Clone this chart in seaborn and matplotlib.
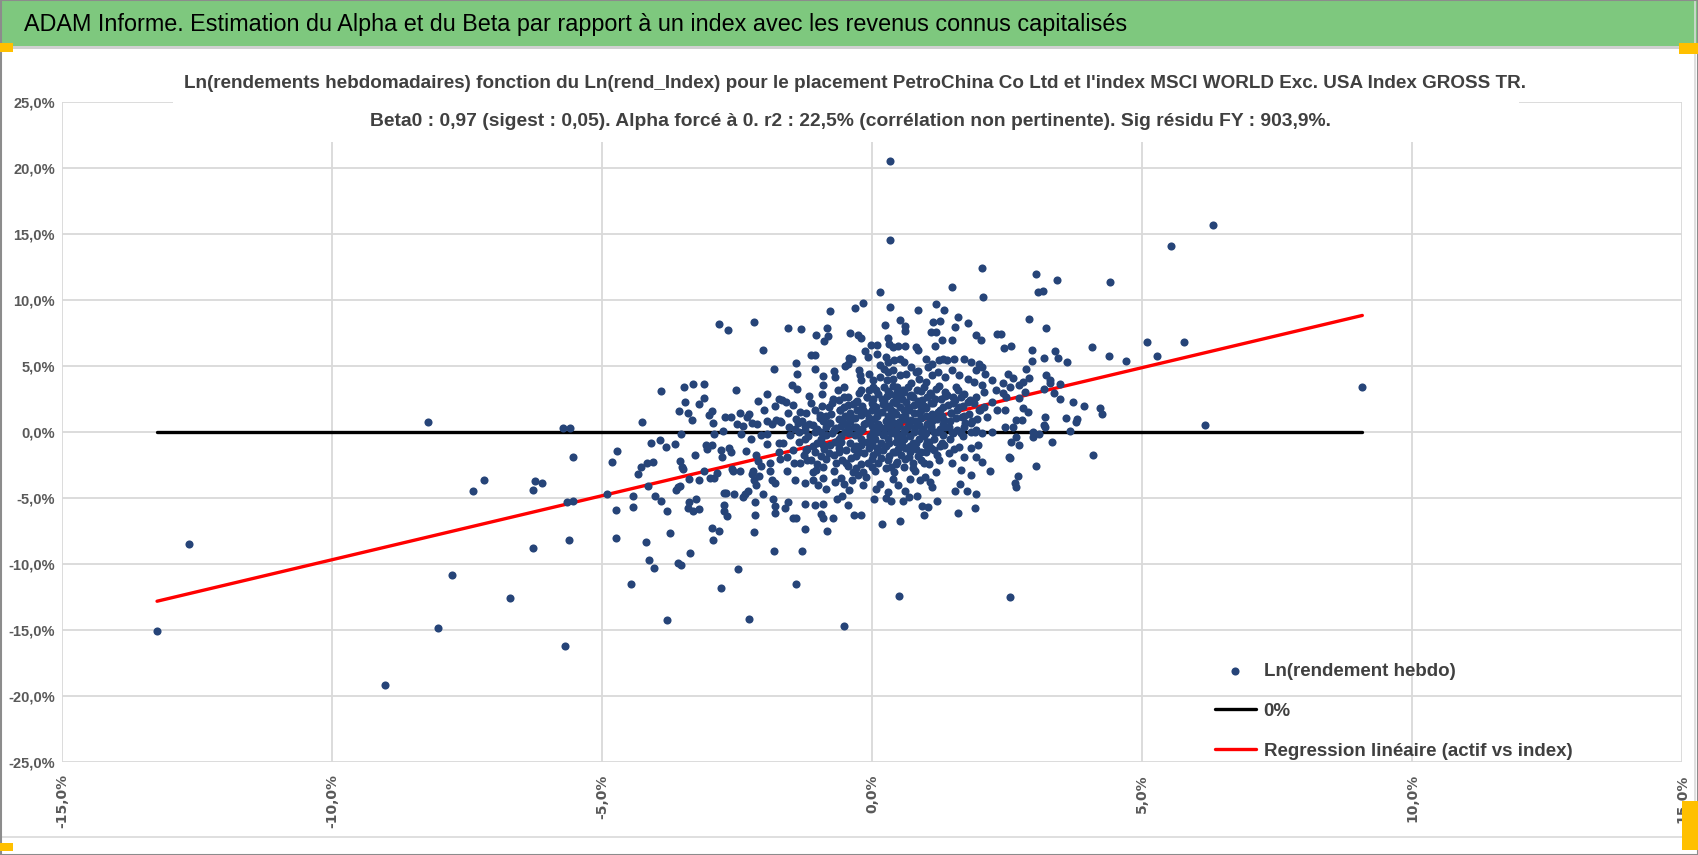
import matplotlib
matplotlib.use('Agg')
import matplotlib.pyplot as plt
import seaborn as sns
import numpy as np
import pandas as pd
from matplotlib import font_manager
from matplotlib.patches import Rectangle

# Ln(rendement hebdo) of the asset (y) vs Ln(rend_Index) (x), in %
outliers = [
    (-8.22, 0.71), (-5.72, 0.30), (-5.60, 0.30), (-5.54, -1.94), (-7.18, -3.66), (-7.38, -4.47),
    (-6.25, -3.74), (-6.12, -3.86), (-6.27, -4.39), (-5.64, -5.33), (-5.54, -5.23), (-12.64, -8.51),
    (-5.62, -8.21), (-6.27, -8.84), (-7.77, -10.86), (-6.71, -12.63), (-13.24, -15.08), (-8.03, -14.87),
    (-5.68, -16.24), (-9.02, -19.2), (-3.80, -14.3), (-2.27, -14.2), (-0.52, -14.74), (2.55, -12.5),
    (0.50, -12.44), (0.34, 20.5), (0.34, 14.54), (6.31, 15.67), (5.54, 14.10), (9.08, 3.35), (6.17, 0.48),
]

left_cloud = [
    (-2.84, 8.14), (-2.66, 7.71), (-2.19, 8.34), (-2.01, 6.21), (-1.81, 4.75),
    (-3.91, 3.07), (-3.49, 3.37), (-3.31, 3.59), (-3.11, 3.59), (-3.46, 2.24), (-3.11, 2.54), (-3.20, 2.11),
    (-3.58, 1.58), (-3.41, 1.38), (-3.34, 0.85), (-2.52, 3.19), (-2.12, 2.31), (-1.95, 2.86), (-1.73, 2.51),
    (-1.79, 1.93), (-2.00, 1.66), (-1.77, 0.85), (-1.71, 0.83), (-2.97, 1.56), (-3.02, 1.23), (-2.94, 0.68),
    (-2.72, 1.11), (-2.61, 1.11), (-2.44, 1.38), (-2.28, 1.36), (-2.31, 1.11), (-2.50, 0.60), (-2.23, 0.63),
    (-2.13, 0.55), (-1.94, 0.80), (-1.86, 0.60), (-4.26, 0.73), (-3.54, -0.20), (-2.92, -0.20), (-2.76, 0.08),
    (-2.43, -0.15), (-2.38, 0.43), (-2.25, -0.53), (-2.06, -0.28), (-1.95, -0.15), (-1.95, -0.95), (-1.72, -0.88),
    (-4.10, -0.83), (-3.93, -0.60), (-3.81, -1.13), (-3.65, -0.90), (-3.27, -1.76), (-3.07, -1.01), (-3.06, -1.33),
    (-2.96, -1.01), (-2.80, -1.41), (-2.77, -1.88), (-2.64, -1.21), (-2.61, -1.53), (-2.34, -1.48), (-2.15, -1.73),
    (-2.11, -2.21), (-2.05, -2.59), (-1.89, -2.34), (-1.72, -1.53), (-1.71, -2.09),
    (-4.72, -1.46), (-4.82, -2.29), (-4.27, -2.64), (-4.17, -2.39), (-4.05, -2.29), (-4.34, -3.24), (-3.55, -2.19),
    (-3.51, -2.64), (-3.50, -2.84), (-3.11, -2.94), (-3.00, -3.47), (-2.93, -3.47), (-2.87, -3.14), (-2.60, -2.79),
    (-2.58, -2.99), (-2.44, -2.99), (-2.20, -2.94), (-2.23, -3.19), (-2.18, -3.64), (-2.14, -4.05), (-2.09, -3.39),
    (-1.88, -2.94), (-1.85, -3.64), (-1.79, -3.89), (-3.39, -3.59), (-3.20, -3.69),
    (-4.90, -4.75), (-4.43, -4.85), (-4.43, -5.68), (-4.74, -5.95), (-4.14, -4.10), (-4.02, -4.85), (-3.91, -5.23),
    (-3.80, -5.98), (-3.63, -4.40), (-3.60, -4.22), (-3.55, -4.10), (-3.40, -5.80), (-3.38, -5.35), (-3.32, -6.01),
    (-3.26, -5.10), (-3.21, -5.85), (-2.74, -4.65), (-2.71, -4.65), (-2.74, -5.55), (-2.74, -6.01), (-2.69, -6.41),
    (-2.55, -4.75), (-2.38, -4.95), (-2.36, -4.75), (-2.30, -4.50), (-2.16, -5.35), (-2.17, -6.31), (-2.01, -4.75),
    (-1.84, -5.10), (-1.80, -5.60), (-1.79, -6.18), (-1.62, -5.75), (-1.56, -5.35), (-1.46, -6.51), (-1.40, -6.51),
    (-1.24, -5.45), (-1.25, -7.36),
    (-4.75, -8.07), (-4.18, -8.32), (-3.75, -7.69), (-2.97, -7.31), (-2.84, -7.49), (-2.94, -8.24), (-2.18, -7.59),
    (-3.37, -9.17), (-4.13, -9.70), (-4.03, -10.30), (-3.60, -9.97), (-3.53, -10.07), (-2.48, -10.43),
    (-1.81, -9.05), (-1.29, -9.05), (-4.46, -11.56), (-2.79, -11.81), (-1.40, -11.56),
]

core_upper = [
    (2.03, 12.39), (1.49, 10.93), (2.05, 10.18), (0.14, 10.60), (-0.16, 9.75), (-0.31, 9.35), (-0.77, 9.12),
    (0.34, 9.42), (1.19, 9.65), (1.33, 9.22), (0.85, 9.22), (1.59, 8.69),
    (-1.56, 7.84), (-1.31, 7.76), (-0.83, 7.89), (-1.03, 7.34), (-0.88, 6.86), (-0.82, 7.24), (-0.41, 7.46),
    (-0.26, 7.31), (-0.21, 7.09), (0.24, 8.12), (0.52, 8.49), (0.61, 8.04), (0.61, 7.66), (0.30, 7.11),
    (0.31, 6.66), (1.13, 8.29), (1.25, 8.37), (1.10, 7.59), (1.19, 7.56), (1.53, 7.96), (1.78, 8.22),
    (1.29, 6.91), (1.49, 6.91), (1.92, 7.29), (2.01, 6.96), (2.32, 7.41), (1.16, 6.48), (-0.02, 6.58),
    (0.09, 6.58), (0.82, 6.41), (0.85, 6.21), (0.38, 6.41), (0.49, 6.48), (0.61, 6.48),
    (-1.13, 5.78), (-1.06, 5.78), (-1.40, 5.20), (-1.06, 4.72), (-1.39, 4.35), (-1.49, 3.57), (-1.38, 3.27),
    (-0.90, 4.25), (-0.69, 4.15), (-0.42, 5.60), (-0.37, 5.48), (-0.50, 5.00), (-0.45, 5.10), (-0.13, 6.11),
    (-0.08, 5.65), (0.10, 5.90), (0.26, 5.65), (0.29, 5.28), (0.41, 5.40), (0.51, 5.53), (0.60, 5.28),
    (0.14, 5.03), (0.23, 4.77), (0.38, 4.65), (-0.23, 4.27), (-0.20, 3.89), (-0.05, 4.40), (0.02, 3.89),
    (0.14, 4.15), (0.28, 3.89), (0.38, 4.02), (0.52, 4.27), (0.63, 4.40), (0.72, 4.90), (0.81, 4.52),
    (0.87, 4.02), (1.00, 5.53), (1.03, 4.90), (1.12, 5.15), (1.24, 5.40), (1.31, 5.53), (1.38, 5.40),
    (1.52, 5.53), (1.71, 5.53), (1.83, 5.28), (1.98, 5.15), (2.04, 4.90), (1.92, 4.65), (1.12, 4.27),
    (1.23, 4.52), (1.36, 4.15), (1.49, 4.65), (1.61, 4.27), (1.77, 4.02), (1.89, 3.77), (2.10, 4.40),
    (2.23, 3.89), (2.03, 3.57), (1.00, 3.77), (0.72, 3.69),
]

core_mid = [
    (-1.59, 2.26), (-1.46, 2.01), (-1.66, 2.39), (-1.56, 1.38), (-1.34, 1.51), (-1.16, 2.71), (-1.13, 2.14),
    (-0.97, 1.26), (-0.91, 3.52), (-0.92, 2.89), (-0.79, 1.88), (-0.73, 2.51), (-0.63, 3.14), (-0.60, 1.63),
    (-0.51, 2.64), (-0.45, 2.01), (-0.39, 1.13), (-0.30, 2.26), (-0.20, 3.14), (-0.17, 1.63), (-0.10, 2.64),
    (-0.05, 1.01), (0.01, 2.01), (0.07, 3.14), (0.12, 1.38), (0.18, 2.51), (0.23, 3.39), (0.25, 1.88),
    (0.29, 0.75), (0.34, 2.89), (0.38, 2.26), (0.41, 1.51), (0.46, 3.39), (0.50, 2.64), (0.52, 1.88),
    (0.55, 1.13), (0.60, 3.02), (0.63, 2.26), (0.68, 1.63), (0.72, 0.88), (0.75, 2.64), (0.78, 2.01),
    (0.84, 3.14), (0.87, 1.38), (0.92, 2.39), (0.97, 3.39), (1.00, 1.76), (1.05, 1.13), (1.09, 2.76),
    (1.13, 2.14), (1.18, 3.27), (1.23, 1.51), (1.27, 2.51), (1.33, 0.88), (1.36, 3.02), (1.40, 2.01),
    (1.46, 1.38), (1.50, 2.64), (1.55, 3.39), (1.61, 1.88), (1.66, 1.13), (1.70, 2.89), (1.78, 2.26),
    (1.83, 0.63), (1.92, 2.64), (1.98, 1.63), (2.07, 3.02), (2.13, 1.13), (2.23, 2.26), (2.29, 3.14),
    (2.32, 1.63), (1.92, 0.13), (1.70, 0.38),
    (-1.68, 0.75), (-1.53, 0.38), (-1.37, 0.63), (-1.25, 0.13), (-1.09, 0.50), (-0.94, 0.00), (-0.79, 0.63),
    (-0.66, 0.25), (-0.54, 0.75), (-0.42, -0.13), (-0.33, 0.38), (-0.20, 0.13), (-0.11, 0.63), (0.01, 0.00),
    (0.14, 0.38), (0.23, -0.13), (0.32, 0.50), (0.44, 0.13), (0.54, -0.25), (0.66, 0.38), (0.78, 0.00),
    (0.87, 0.50), (1.00, -0.13), (1.09, 0.25), (1.21, 0.00), (1.36, 0.38), (1.49, 0.00), (1.64, -0.13),
    (1.83, 0.00), (2.04, -0.08), (2.23, 0.00),
]

core_lower = [
    (-1.65, -0.88), (-1.46, -1.38), (-1.58, -1.88), (-1.34, -2.39), (-1.22, -1.38), (-1.13, -2.14),
    (-1.03, -2.89), (-1.43, -3.64), (-1.25, -3.89), (-0.91, -1.01), (-0.79, -1.63), (-0.66, -2.39),
    (-0.57, -0.75), (-0.48, -1.38), (-0.39, -2.01), (-0.30, -2.76), (-0.20, -1.01), (-0.14, -1.63),
    (-0.08, -2.39), (0.01, -0.63), (0.10, -1.26), (0.17, -2.01), (0.25, -2.76), (0.32, -0.88), (0.38, -1.51),
    (0.47, -2.26), (0.54, -0.63), (0.62, -1.26), (0.69, -1.88), (0.75, -2.76), (0.81, -0.88), (0.90, -1.51),
    (0.97, -2.39), (1.06, -0.75), (1.15, -1.38), (1.24, -2.14), (1.33, -1.01), (1.43, -1.63), (1.49, -2.39),
    (1.61, -1.13), (1.70, -1.88), (1.83, -1.26), (1.92, -1.88), (2.04, -2.26), (2.18, -2.94), (1.97, -1.01),
    (1.64, -2.89), (-0.17, -3.02),
    (-1.06, -5.58), (-0.91, -5.51), (-0.90, -6.55), (-0.83, -7.49), (-0.95, -6.22), (-0.73, -6.50),
    (-0.64, -5.08), (-0.55, -4.87), (-0.44, -5.53), (-0.34, -6.29), (-0.20, -6.29), (0.04, -5.13),
    (0.19, -7.03), (0.25, -5.00), (0.35, -5.28), (0.51, -6.80), (0.58, -5.28), (0.69, -4.97), (0.83, -4.90),
    (0.93, -5.66), (0.97, -6.29), (1.04, -5.74), (1.20, -5.23), (1.59, -6.17), (1.91, -5.79), (1.53, -4.52),
    (1.75, -4.49), (1.93, -4.70), (1.11, -4.19),
    (-1.10, -3.68), (-1.00, -4.06), (-0.91, -3.50), (-0.85, -4.31), (-0.69, -3.81), (-0.58, -3.50),
    (-0.51, -3.93), (-0.42, -4.44), (-0.37, -3.68), (-0.26, -3.25), (-0.17, -4.01), (-0.11, -3.43),
    (0.07, -4.31), (0.15, -3.93), (0.30, -4.57), (0.39, -3.55), (0.48, -4.06), (0.61, -4.52), (0.71, -3.55),
    (0.89, -3.68), (0.98, -3.43), (1.08, -3.81), (1.63, -3.93), (1.83, -3.30),
]

core_fill = [
    (-0.25, 2.95), (0.12, 2.85), (0.47, 2.98), (0.72, 2.80), (1.07, 2.92), (1.38, 2.78),
    (-0.62, 2.42), (-0.28, 2.35), (0.02, 2.47), (0.22, 2.30), (0.56, 2.44), (0.86, 2.33), (1.17, 2.46),
    (1.53, 2.38), (1.82, 2.41),
    (-0.92, 1.93), (-0.52, 1.85), (-0.18, 1.98), (0.08, 1.88), (0.31, 1.95), (0.66, 1.84), (0.96, 1.96),
    (1.31, 1.87), (1.68, 1.95), (2.08, 1.90),
    (-1.22, 1.42), (-0.76, 1.36), (-0.41, 1.45), (-0.09, 1.38), (0.19, 1.46), (0.44, 1.35), (0.77, 1.43),
    (1.12, 1.37), (1.46, 1.44), (1.79, 1.36),
    (-1.41, 0.98), (-0.96, 1.04), (-0.61, 0.95), (-0.31, 1.02), (0.04, 0.96), (0.36, 1.05), (0.59, 0.97),
    (0.91, 1.03), (1.21, 0.94), (1.56, 1.01), (1.94, 0.97),
    (-1.16, 0.58), (-0.77, 0.63), (-0.46, 0.55), (-0.14, 0.62), (0.11, 0.57), (0.41, 0.64), (0.69, 0.56),
    (1.01, 0.61), (1.31, 0.58), (1.72, 0.63),
    (-1.42, 0.18), (-1.02, 0.23), (-0.71, 0.16), (-0.44, 0.22), (-0.19, 0.17), (0.09, 0.24), (0.36, 0.15),
    (0.62, 0.21), (0.94, 0.18), (1.26, 0.23), (1.57, 0.16),
    (-1.52, -0.28), (-1.18, -0.33), (-0.86, -0.26), (-0.58, -0.34), (-0.31, -0.27), (-0.04, -0.32),
    (0.21, -0.25), (0.46, -0.33), (0.71, -0.29), (0.96, -0.35), (1.31, -0.27), (1.69, -0.31),
    (-1.36, -0.78), (-1.01, -0.84), (-0.69, -0.76), (-0.41, -0.83), (-0.09, -0.77), (0.16, -0.85),
    (0.44, -0.79), (0.76, -0.82), (1.02, -0.76), (1.29, -0.84),
    (-1.21, -1.28), (-0.88, -1.34), (-0.61, -1.26), (-0.34, -1.33), (-0.06, -1.27), (0.21, -1.35),
    (0.49, -1.29), (0.81, -1.32), (1.09, -1.25), (1.52, -1.31),
    (-1.26, -1.79), (-0.94, -1.84), (-0.71, -1.76), (-0.29, -1.83), (0.01, -1.78), (0.31, -1.86),
    (0.54, -1.77), (0.86, -1.82), (1.21, -1.79),
    (-1.44, -2.38), (-1.01, -2.43), (-0.49, -2.36), (-0.21, -2.44), (0.11, -2.37), (0.44, -2.42),
    (0.76, -2.35), (1.06, -2.45),
    (-1.58, -2.98), (-1.09, -3.04), (-0.71, -2.96), (-0.36, -3.02), (0.06, -2.97), (0.41, -3.05),
    (0.79, -2.99), (1.19, -3.03),
    (-0.51, 3.42), (0.02, 3.36), (0.39, 3.45), (0.66, 3.38), (1.24, 3.44),
    (-0.71, 4.58), (-0.24, 4.66), (0.29, 4.55), (0.86, 4.63),
]

core_dense = [
    (-0.05, 3.17), (0.30, 3.12), (0.58, 3.19), (0.90, 3.11), (1.60, 3.16),
    (-0.45, 2.66), (-0.10, 2.61), (0.28, 2.69), (0.45, 2.63), (0.70, 2.67), (1.02, 2.62), (1.35, 2.68),
    (1.65, 2.64),
    (-0.75, 2.16), (-0.35, 2.12), (0.00, 2.18), (0.20, 2.13), (0.44, 2.17), (0.85, 2.11), (1.10, 2.19),
    (1.50, 2.14), (1.88, 2.16),
    (-1.05, 1.66), (-0.60, 1.62), (-0.28, 1.68), (0.00, 1.63), (0.35, 1.67), (0.60, 1.61), (0.90, 1.68),
    (1.25, 1.64), (1.58, 1.66), (2.00, 1.62),
    (-0.85, 1.21), (-0.50, 1.18), (-0.20, 1.23), (0.10, 1.19), (0.30, 1.22), (0.62, 1.17), (1.00, 1.21),
    (1.30, 1.19), (1.70, 1.22),
    (-1.30, 0.81), (-0.90, 0.78), (-0.40, 0.83), (-0.05, 0.79), (0.25, 0.82), (0.50, 0.77), (0.82, 0.81),
    (1.12, 0.79), (1.45, 0.83), (1.85, 0.78),
    (-1.25, 0.41), (-0.85, 0.38), (-0.58, 0.43), (-0.30, 0.39), (0.00, 0.42), (0.26, 0.37), (0.50, 0.41),
    (0.80, 0.39), (1.10, 0.43), (1.42, 0.38),
    (-1.35, -0.06), (-1.05, -0.03), (-0.75, -0.07), (-0.50, -0.04), (-0.25, -0.06), (0.10, -0.03),
    (0.35, -0.07), (0.60, -0.04), (0.90, -0.06), (1.15, -0.03), (1.50, -0.07), (1.90, -0.04),
    (-1.25, -0.56), (-0.95, -0.53), (-0.62, -0.57), (-0.20, -0.54), (0.05, -0.56), (0.30, -0.53),
    (0.60, -0.57), (0.87, -0.54), (1.15, -0.56), (1.45, -0.53),
    (-1.10, -1.06), (-0.78, -1.03), (-0.30, -1.07), (0.00, -1.04), (0.25, -1.06), (0.55, -1.03),
    (0.70, -1.07), (1.00, -1.04), (1.25, -1.06),
    (-1.05, -1.56), (-0.62, -1.53), (-0.25, -1.57), (0.10, -1.54), (0.42, -1.56), (0.70, -1.53),
    (1.00, -1.57),
    (-1.20, -2.11), (-0.85, -2.08), (-0.55, -2.12), (0.00, -2.09), (0.30, -2.11), (0.62, -2.08),
    (0.90, -2.12),
    (-0.90, -2.66), (-0.45, -2.63), (0.00, -2.67), (0.35, -2.64), (0.60, -2.66),
]

right_cloud = [
    (3.03, 11.95), (3.43, 11.52), (3.07, 10.58), (3.17, 10.66), (4.41, 11.32), (2.91, 8.56), (3.23, 7.82),
    (2.38, 7.39), (2.44, 6.33), (2.58, 6.46), (2.96, 6.20), (2.96, 5.37), (3.19, 5.57), (3.38, 6.10),
    (3.45, 5.59), (3.62, 5.27), (4.08, 6.43), (4.39, 5.70), (4.71, 5.37), (5.10, 6.76), (5.28, 5.70),
    (5.77, 6.76), (4.10, -1.75), (2.86, 4.76), (2.91, 4.10), (2.80, 3.80), (2.73, 3.54), (2.61, 4.05),
    (2.52, 4.35), (2.56, 3.42), (2.43, 3.67), (2.49, 2.66), (2.42, 2.91), (3.23, 4.30), (3.29, 3.92),
    (3.30, 3.72), (3.49, 3.59), (3.18, 3.24), (3.37, 2.96), (2.84, 2.99), (2.73, 2.53), (3.49, 2.51),
    (3.73, 2.28), (3.92, 1.95), (4.23, 1.77), (4.25, 1.34), (3.80, 0.94), (3.77, 0.76), (3.60, 1.01),
    (3.66, 0.08), (3.21, 1.14), (3.18, 0.51), (3.21, 0.33), (2.98, 0.00), (2.99, -0.43), (3.09, -0.18),
    (3.33, -0.78), (2.80, 1.77), (2.89, 1.52), (2.78, 0.89), (2.67, 0.89), (2.61, 0.33), (2.66, -0.38),
    (2.73, -1.01), (2.54, -1.90), (2.55, -2.03), (3.04, -2.58), (2.70, -3.34), (2.64, -3.92), (2.67, -4.18),
    (2.58, -0.76), (2.46, 1.65), (2.46, 0.33),
]

beta0 = 0.97  # Beta0 from the chart title, alpha forced to 0

title_bar = ("ADAM Informe. Estimation du Alpha et du Beta par rapport à un index "
             "avec les revenus connus capitalisés")
title_l1 = ("Ln(rendements hebdomadaires) fonction du Ln(rend_Index) pour le placement "
            "PetroChina Co Ltd et l'index MSCI WORLD Exc. USA Index GROSS TR.")
title_l2 = ("Beta0 : 0,97 (sigest : 0,05). Alpha forcé à 0. r2 : 22,5% "
            "(corrélation non pertinente). Sig résidu FY : 903,9%.")
lab_pts = 'Ln(rendement hebdo)'
lab_zero = '0%'
lab_reg = 'Regression linéaire (actif vs index)'
ticks = [-25, -20, -15, -10, -5, 0, 5, 10, 15, 20, 25]

# ---------------------------------------------------------------
available = {f.name for f in font_manager.fontManager.ttflist}
narrow = 'Liberation Sans Narrow' if 'Liberation Sans Narrow' in available else 'Liberation Sans'

sns.set_style('white')
plt.rcParams['font.family'] = [narrow, 'DejaVu Sans']

W, H = 1698, 855
fig = plt.figure(figsize=(W / 100, H / 100), dpi=100)
fig.patch.set_facecolor('white')


def px_rect(x0, y0, x1, y1, **kw):
    # rectangle given in pixels from the top-left corner
    r = Rectangle((x0 / W, 1 - y1 / H), (x1 - x0) / W, (y1 - y0) / H,
                  transform=fig.transFigure, **kw)
    fig.patches.append(r)
    return r


# green header and frame
px_rect(0, 0, W, 46, facecolor='#7EC87E', edgecolor='none', zorder=0)
px_rect(0, 46, W, 49, facecolor='#D0D0D0', edgecolor='none', zorder=0)
px_rect(0.5, 0.5, 1695, 837, facecolor='none', edgecolor='#D9D9D9', lw=1.2, zorder=0)
px_rect(0.5, 0.5, W - 0.5, H - 0.5, facecolor='none', edgecolor='#8C8C8C', lw=1.5, zorder=0)
for box in [(0, 43, 13, 52), (1679, 43, W, 54), (1682, 801, W, 850), (0, 843, 13, 851)]:
    px_rect(*box, facecolor='#FFC000', edgecolor='none', zorder=5)

ax = fig.add_axes([62 / W, 1 - 761.7 / H, 1620 / W, 660 / H])

df = pd.DataFrame(outliers + left_cloud + core_upper + core_mid + core_lower + core_fill
                  + core_dense + right_cloud,
                  columns=['rend_index', 'rend_actif'])
xmin, xmax = df['rend_index'].min(), df['rend_index'].max()
lines = pd.DataFrame({'x': [xmin, xmax], 'zero': [0.0, 0.0],
                      'reg': [beta0 * xmin, beta0 * xmax]})

sns.lineplot(data=lines, x='x', y='zero', color='black', lw=2.4, ax=ax, label=lab_zero, zorder=2)
sns.lineplot(data=lines, x='x', y='reg', color='#FF0000', lw=2.4, ax=ax, label=lab_reg, zorder=2)
sns.scatterplot(data=df, x='rend_index', y='rend_actif', color='#264478', s=34,
                linewidth=0, ax=ax, label=lab_pts, zorder=3)

ax.set_xlim(-15, 15)
ax.set_ylim(-25, 25)
ax.set_xticks(ticks[2:-2])
ax.set_yticks(ticks)
fmt = lambda v: f"{v:.1f}%".replace('.', ',')
ax.set_xticklabels([fmt(v) for v in ticks[2:-2]], rotation=90, family='DejaVu Sans',
                   fontweight='bold', fontsize=10, color='#595959')
ax.set_yticklabels([fmt(v) for v in ticks], fontweight='bold', fontsize=10.5, color='#595959')
ax.tick_params(length=0)
ax.tick_params(axis='x', pad=9)
ax.tick_params(axis='y', pad=5)
ax.set_xlabel('')
ax.set_ylabel('')
ax.grid(True, color='#D9D9D9', lw=1.3)
ax.set_axisbelow(True)
for s in ax.spines.values():
    s.set_visible(False)

handles, labels = ax.get_legend_handles_labels()
order = [labels.index(l) for l in (lab_pts, lab_zero, lab_reg)]
leg = ax.legend([handles[i] for i in order], [labels[i] for i in order],
                loc='lower left', bbox_to_anchor=((1213 - 62) / 1620, 0.0),
                frameon=False, fontsize=14, handlelength=2.1, handletextpad=0.4,
                labelspacing=1.15, borderpad=0.1, borderaxespad=0)
for t in leg.get_texts():
    t.set_color('#404040')
    t.set_fontweight('bold')

# white box behind the chart title, cutting the top gridline
px_rect(173, 58, 1519, 142, facecolor='white', edgecolor='none', zorder=1)

t0 = fig.text(24 / W, 1 - 24 / H, title_bar, ha='left', va='center', fontsize=18, color='black')
t1 = fig.text(855 / W, 1 - 83 / H, title_l1, ha='center', va='center', fontsize=15,
              fontweight='bold', color='#404040', zorder=4)
t2 = fig.text(851 / W, 1 - 122 / H, title_l2, ha='center', va='center', fontsize=15,
              fontweight='bold', color='#404040', zorder=4)

# fit text widths to the reference layout
fig.canvas.draw()
rend = fig.canvas.get_renderer()
for t, target in [(t0, 1102), (t1, 1343), (t2, 966)]:
    w = t.get_window_extent(rend).width
    t.set_fontsize(t.get_fontsize() * target / w)
w = max(t.get_window_extent(rend).width for t in leg.get_texts())
for t in leg.get_texts():
    t.set_fontsize(14 * 311 / w)

fig.savefig('out.png', dpi=100, facecolor='white')
